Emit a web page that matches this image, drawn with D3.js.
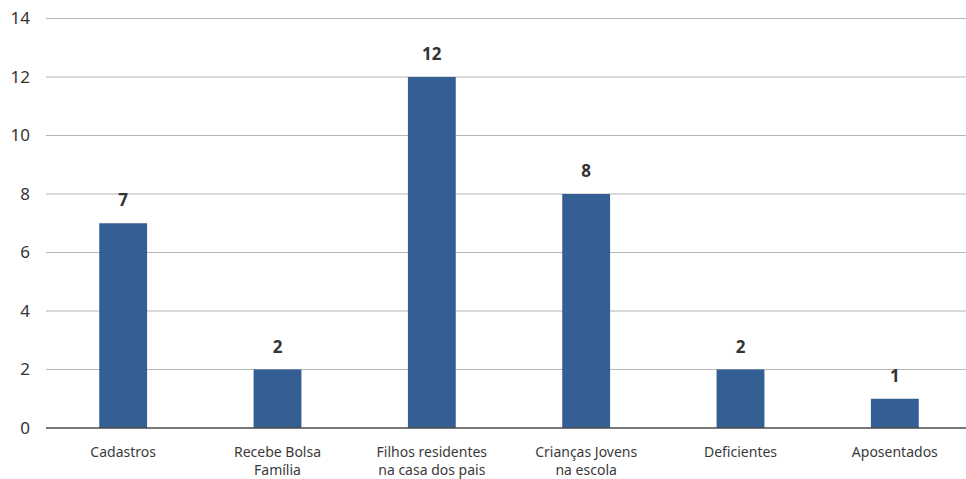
<!DOCTYPE html>
<html><head><meta charset="utf-8">
<script src="https://cdn.jsdelivr.net/npm/d3@7"></script>
<style>body{margin:0;background:#fff}svg{display:block;font-family:"Noto Sans",sans-serif}</style>
</head><body><svg id="c" width="966" height="479"></svg>
<script>
const categories = [["Cadastros"],["Recebe Bolsa","Família"],["Filhos residentes","na casa dos pais"],["Crianças Jovens","na escola"],["Deficientes"],["Aposentados"]];
const values = [7,2,12,8,2,1];
const yTicks = [0,2,4,6,8,10,12,14];

const svg = d3.select("#c");
const x = d3.scaleBand().domain(d3.range(categories.length)).range([46,972]).paddingInner(0.69).paddingOuter(0.345);
const y = d3.scaleLinear().domain([0,14]).range([428,18.5]);

svg.append("g").selectAll("line").data(yTicks.filter(d=>d>0)).join("line")
  .attr("x1",46).attr("x2",966).attr("y1",d=>y(d)).attr("y2",d=>y(d))
  .attr("stroke","#b5b5b5").attr("stroke-width",1);

const yAxis = svg.append("g").attr("transform","translate(46,0)")
  .call(d3.axisLeft(y).tickValues(yTicks).tickSize(0).tickPadding(16));
yAxis.select(".domain").remove();
yAxis.selectAll("text").attr("font-size",17).attr("fill","#333").attr("font-family","'Noto Sans',sans-serif");

svg.append("g").selectAll("rect").data(values).join("rect")
  .attr("x",(d,i)=>x(i)).attr("width",x.bandwidth())
  .attr("y",d=>y(d)).attr("height",d=>y(0)-y(d)).attr("fill","#345f94");

svg.append("line").attr("x1",46).attr("x2",966).attr("y1",y(0)).attr("y2",y(0))
  .attr("stroke","#4a4a4a").attr("stroke-width",1.5);

svg.append("g").selectAll("text").data(values).join("text")
  .attr("x",(d,i)=>x(i)+x.bandwidth()/2).attr("y",d=>y(d)-17)
  .attr("text-anchor","middle").attr("font-size",17).attr("font-weight","bold").attr("fill","#333")
  .text(d=>d);

const xl = svg.append("g").selectAll("text").data(categories).join("text")
  .attr("x",(d,i)=>x(i)+x.bandwidth()/2).attr("y",457)
  .attr("text-anchor","middle").attr("font-size",14).attr("fill","#3a3a3a");
xl.selectAll("tspan").data(d=>d).join("tspan")
  .attr("x",function(){return this.parentNode.getAttribute("x");})
  .attr("dy",(d,i)=>i?18:0).text(d=>d);
</script></body></html>
